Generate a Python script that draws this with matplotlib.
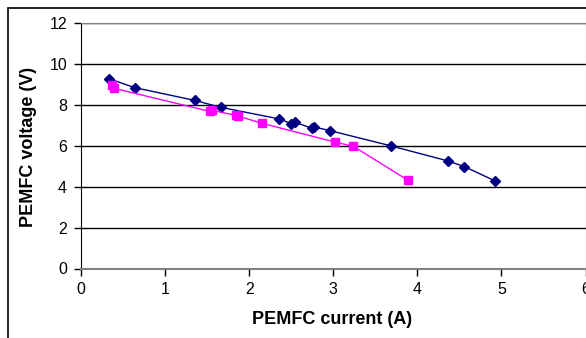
import matplotlib
matplotlib.use('Agg')
import matplotlib.pyplot as plt
from matplotlib.patches import Rectangle

plt.rcParams['font.family'] = ['Liberation Sans', 'DejaVu Sans']

# blue series (diamonds)
current_a = [0.33, 0.64, 1.35, 1.66, 2.36, 2.50, 2.55, 2.75, 2.77, 2.96, 3.69, 4.37, 4.56, 4.92]
voltage_a = [9.28, 8.84, 8.22, 7.88, 7.31, 7.08, 7.14, 6.85, 6.92, 6.74, 5.99, 5.25, 4.98, 4.29]

# pink series (squares)
current_b = [0.37, 0.39, 1.53, 1.56, 1.84, 1.87, 2.15, 3.02, 3.24, 3.89]
voltage_b = [8.97, 8.81, 7.68, 7.73, 7.49, 7.45, 7.10, 6.18, 5.97, 4.31]

W, H = 586, 338
fig = plt.figure(figsize=(W / 100, H / 100), dpi=100)

# outer chart border (runs off the right and bottom edge)
fig.patches.append(Rectangle((8 / W, -0.1), 1.2, 1 - 8 / H + 0.1, transform=fig.transFigure,
                             fill=False, edgecolor='black', linewidth=1.2))

left, right, top, bottom = 81, 585.5, 23, 268.5
ax = fig.add_axes([left / W, 1 - bottom / H, (right - left) / W, (bottom - top) / H])

ax.plot(current_a, voltage_a, color='#000080', marker='D', markersize=5.5, linewidth=1)
ax.plot(current_b, voltage_b, color='#FF00FF', marker='s', markersize=6, linewidth=1)

ax.set_xlim(0, 6)
ax.set_ylim(0, 12)
ax.set_xticks(range(0, 7))
ax.set_yticks(range(0, 13, 2))
ax.yaxis.grid(True, color='black', linewidth=1)
ax.set_axisbelow(True)

for side in ['top', 'right']:
    ax.spines[side].set_color('#808080')
ax.spines['left'].set_color('black')
ax.spines['bottom'].set_color('#808080')
ax.spines['bottom'].set_linewidth(1.5)

ax.tick_params(direction='out', length=5, width=1, labelsize=11.5, pad=5)

fig.text(332 / W, 1 - 320 / H, 'PEMFC current (A)', ha='center', va='center',
         fontsize=13, fontweight='bold')
fig.text(29 / W, 1 - 147 / H, 'PEMFC voltage (V)', ha='center', va='center',
         fontsize=13, fontweight='bold', rotation=90)

plt.savefig('out.png', dpi=100)
